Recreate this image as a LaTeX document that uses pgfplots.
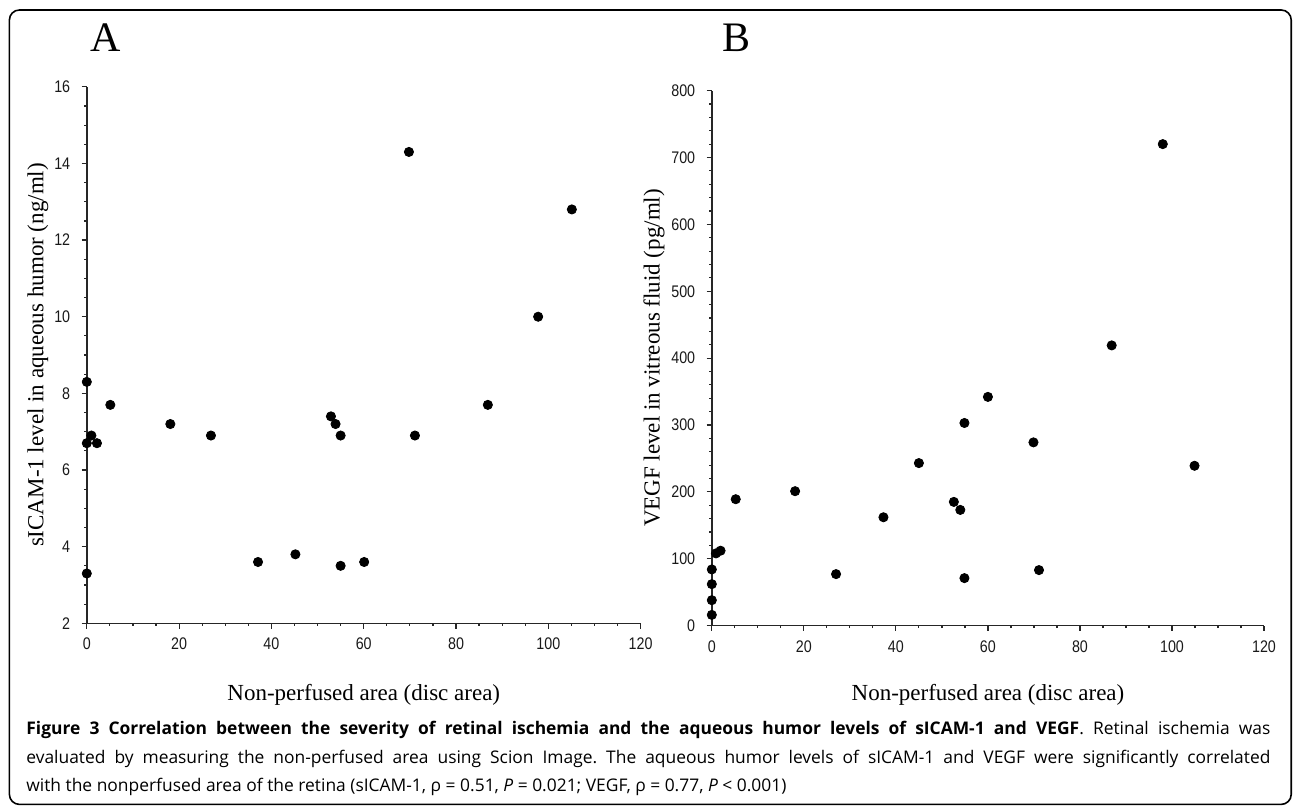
\documentclass[border=0pt]{standalone}
\usepackage{fontspec}
\setmainfont{Liberation Serif}
\newfontfamily\tickfont[FakeStretch=0.85]{Liberation Sans}
\newfontfamily\capfont{Open Sans}
\usepackage{pgfplots}
\pgfplotsset{compat=1.18}

\pgfplotsset{panel/.style={
  scale only axis, clip=false,
  axis lines=left, axis line style={-, line width=0.8pt, black!85},
  xmin=0, xmax=120, xtick={0,20,...,120}, minor x tick num=3,
  tick align=outside, major tick length=2.6pt, minor tick length=1.3pt,
  tick style={black!85, line width=0.6pt},
  ticklabel style={font=\tickfont\fontsize{8.4}{9}\selectfont, text=black!90},
  /pgf/number format/assume math mode=true,
  yticklabel style={xshift=-2.2pt},
  xticklabel style={yshift=-1.2pt},
}}
\pgfplotsset{dots/.style={only marks, mark=*, mark size=2.3pt, black, mark options={fill=black}}}

\begin{document}
\frenchspacing
\begin{tikzpicture}
  \useasboundingbox (0,0) rectangle (646.5pt,-403pt);
  \draw[line width=0.8pt, rounded corners=5pt] (4.7pt,-5pt) rectangle (645.6pt,-402.2pt);

  % panel A
  \begin{axis}[panel, at={(43.4pt,-311.65pt)}, anchor=south west,
      width=276.9pt, height=268.25pt,
      ymin=2, ymax=16, ytick={2,4,...,16}, minor y tick num=3]
    \addplot[dots] coordinates {
      (0,8.3) (0,6.7) (1.0,6.9) (2.2,6.7) (0,3.3) (5.1,7.7) (18.1,7.2)
      (26.9,6.9) (37.1,3.6) (45.2,3.8) (52.9,7.4) (53.9,7.2) (55,6.9)
      (55,3.5) (60.1,3.6) (69.8,14.3) (71.1,6.9) (86.9,7.7) (97.8,10.0)
      (105.1,12.8)};
  \end{axis}

  % panel B
  \begin{axis}[panel, at={(355.9pt,-312.8pt)}, anchor=south west,
      width=276.1pt, height=267.5pt,
      ymin=0, ymax=800, ytick={0,100,...,800}, minor y tick num=4]
    \addplot[dots] coordinates {
      (0,16) (0,38) (0,62) (0,84) (0.9,108) (1.9,112) (5.2,189) (18.1,201)
      (27.0,77) (37.3,162) (45.0,243) (52.6,185) (54.0,173) (54.9,303)
      (54.9,71) (60.0,342) (69.9,274) (71.1,83) (86.9,419) (98.0,720)
      (104.9,239)};
  \end{axis}

  % panel letters and axis titles
  \node[font=\fontsize{21}{21}\selectfont] at (53pt,-19pt) {A};
  \node[font=\fontsize{21}{21}\selectfont] at (368pt,-19pt) {B};
  \node[font=\fontsize{11.5}{12}\selectfont, rotate=90] at (19pt,-177.5pt)
    {sICAM-1 level in aqueous humor (ng/ml)};
  \node[font=\fontsize{11.5}{12}\selectfont, rotate=90] at (327pt,-179pt)
    {VEGF level in vitreous fluid (pg/ml)};
  \node[font=\fontsize{11.5}{12}\selectfont] at (181.9pt,-347.5pt)
    {Non-perfused area (disc area)};
  \node[font=\fontsize{11.5}{12}\selectfont] at (494pt,-347.5pt)
    {Non-perfused area (disc area)};

  % caption
  \begin{scope}[every node/.style={anchor=base west, inner sep=0pt,
      font=\capfont\fontsize{8.7}{10}\selectfont}]
    \node at (13pt,-367pt) {\hbox to 622pt{\textbf{Figure 3 Correlation between the severity of retinal ischemia and the aqueous humor levels of sICAM-1 and VEGF}. Retinal ischemia was}};
    \node at (13pt,-381.5pt) {\hbox to 622pt{evaluated by measuring the non-perfused area using Scion Image. The aqueous humor levels of sICAM-1 and VEGF were significantly correlated}};
    \node at (13pt,-395.5pt) {with the nonperfused area of the retina (sICAM-1, ρ = 0.51, \textit{P} = 0.021; VEGF, ρ = 0.77, \textit{P} < 0.001)};
  \end{scope}
\end{tikzpicture}
\end{document}
